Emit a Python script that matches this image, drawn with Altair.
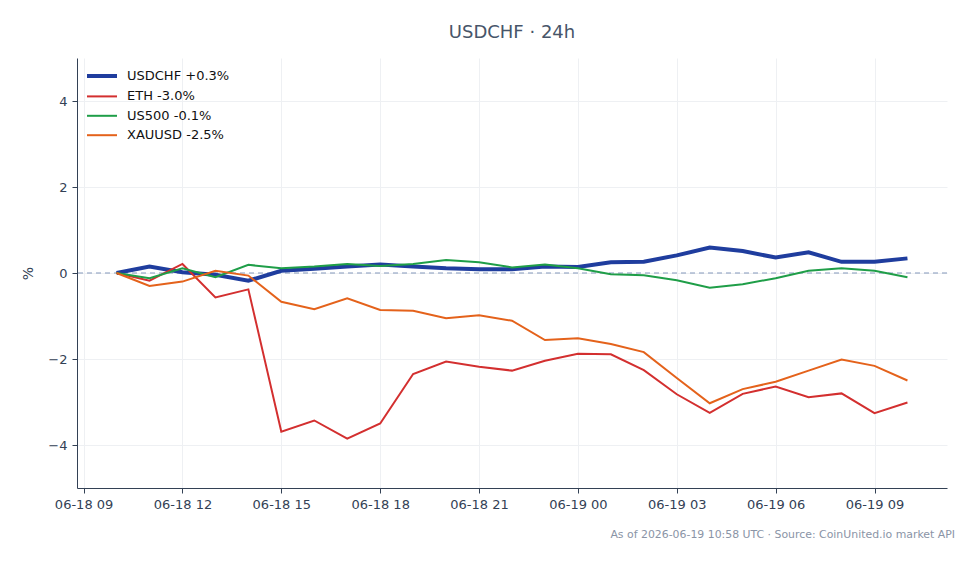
import altair as alt
import pandas as pd

times = [
    "2026-06-18T10:00:00", "2026-06-18T11:00:00", "2026-06-18T12:00:00", "2026-06-18T13:00:00",
    "2026-06-18T14:00:00", "2026-06-18T15:00:00", "2026-06-18T16:00:00", "2026-06-18T17:00:00",
    "2026-06-18T18:00:00", "2026-06-18T19:00:00", "2026-06-18T20:00:00", "2026-06-18T21:00:00",
    "2026-06-18T22:00:00", "2026-06-18T23:00:00", "2026-06-19T00:00:00", "2026-06-19T01:00:00",
    "2026-06-19T02:00:00", "2026-06-19T03:00:00", "2026-06-19T04:00:00", "2026-06-19T05:00:00",
    "2026-06-19T06:00:00", "2026-06-19T07:00:00", "2026-06-19T08:00:00", "2026-06-19T09:00:00",
    "2026-06-19T10:00:00",
]

usdchf = [0.0, 0.15, 0.02, -0.04, -0.18, 0.05, 0.10, 0.15, 0.20, 0.15, 0.11, 0.09, 0.085,
          0.15, 0.14, 0.25, 0.26, 0.41, 0.59, 0.51, 0.36, 0.48, 0.26, 0.26, 0.34]
eth = [0.0, -0.18, 0.21, -0.57, -0.38, -3.69, -3.43, -3.85, -3.50, -2.35, -2.06, -2.18, -2.27,
       -2.04, -1.88, -1.89, -2.26, -2.82, -3.25, -2.81, -2.64, -2.89, -2.80, -3.26, -3.01]
us500 = [0.0, -0.12, 0.11, -0.10, 0.19, 0.11, 0.15, 0.21, 0.16, 0.21, 0.30, 0.25, 0.13,
         0.20, 0.11, -0.03, -0.05, -0.17, -0.34, -0.26, -0.12, 0.05, 0.11, 0.05, -0.10]
xauusd = [0.0, -0.30, -0.20, 0.05, -0.06, -0.67, -0.84, -0.59, -0.86, -0.88, -1.05, -0.98, -1.11,
          -1.56, -1.52, -1.65, -1.84, -2.44, -3.03, -2.70, -2.53, -2.27, -2.01, -2.16, -2.50]

series_labels = ["USDCHF +0.3%", "ETH -3.0%", "US500 -0.1%", "XAUUSD -2.5%"]
series_values = [usdchf, eth, us500, xauusd]
colors = ["#1f3d9e", "#d32f2f", "#1f9e48", "#e4621b"]
widths = [4, 2, 2, 2]
tick_times = [(18, 9), (18, 12), (18, 15), (18, 18), (18, 21), (19, 0), (19, 3), (19, 6), (19, 9)]

rows = []
for lab, vals in zip(series_labels, series_values):
    for t, v in zip(times, vals):
        rows.append({"t": t, "v": v, "s": lab})
df = pd.DataFrame(rows)

FONT = "DejaVu Sans"
AX = "#334155"

x = alt.X(
    "t:T",
    scale=alt.Scale(domain=[alt.DateTime(year=2026, month=6, date=18, hours=8, minutes=48),
                            alt.DateTime(year=2026, month=6, date=19, hours=11, minutes=12)]),
    axis=alt.Axis(title=None, format="%m-%d %H",
                  values=[alt.DateTime(year=2026, month=6, date=d, hours=h) for d, h in tick_times],
                  labelFontSize=13, labelColor=AX, labelFont=FONT, tickColor=AX, tickSize=5,
                  domainColor=AX, labelPadding=5, gridColor="#eef0f3", labelFlush=False),
)
y = alt.Y(
    "v:Q",
    scale=alt.Scale(domain=[-5, 5], nice=False),
    axis=alt.Axis(title="%", values=[-4, -2, 0, 2, 4], labelFontSize=13, labelColor=AX,
                  labelFont=FONT, titleFont=FONT, titleFontSize=14, titleColor=AX,
                  titleFontWeight="normal", tickColor=AX, tickSize=5, domainColor=AX,
                  labelPadding=5, titlePadding=12, gridColor="#eef0f3"),
)

lines = alt.Chart(df).mark_line().encode(
    x=x,
    y=y,
    color=alt.Color("s:N", scale=alt.Scale(domain=series_labels, range=colors),
                    sort=series_labels,
                    legend=alt.Legend(title=None, orient="none", legendX=13, legendY=6,
                                      symbolType="M-1.5,0H1.5", symbolSize=400,
                                      labelFont=FONT, labelFontSize=13, labelColor="#111111",
                                      labelOffset=13, padding=0, rowPadding=1.4)),
    strokeWidth=alt.StrokeWidth("s:N", scale=alt.Scale(type="ordinal", domain=series_labels, range=widths),
                                sort=series_labels, legend=None),
)

zero = alt.Chart(pd.DataFrame({"z": [0]})).mark_rule(
    color="#8397ba", strokeDash=[5, 4], strokeWidth=1
).encode(y=alt.Y("z:Q"))

footer = alt.Chart(pd.DataFrame({"txt": ["As of 2026-06-19 10:58 UTC · Source: CoinUnited.io market API"]})).mark_text(
    align="right", baseline="alphabetic", font=FONT, fontSize=10.9, color="#8a94a6"
).encode(x=alt.value(878), y=alt.value(480), text="txt:N")

chart = alt.layer(zero, lines, footer).properties(
    width=870, height=430,
    title=alt.Title("USDCHF · 24h", font=FONT, fontSize=18, fontWeight="normal",
                    color="#475569", anchor="middle", offset=16),
    padding={"left": 77, "top": 58, "right": 32, "bottom": 76},
    autosize=alt.AutoSizeParams(type="none"),
).configure_view(stroke=None)

chart.save("out.html", embed_options={"renderer": "svg", "actions": False})
